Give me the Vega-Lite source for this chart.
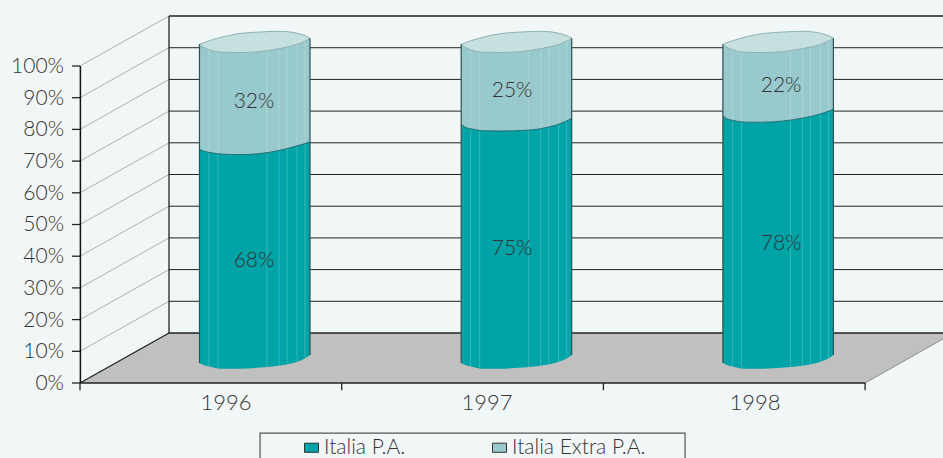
{"$schema":"https://vega.github.io/schema/vega-lite/v6.json","width":863,"height":383,"autosize":{"type":"none"},"padding":{"left":80,"top":0,"right":0,"bottom":75},"background":"#f1f7f7","config":{"view":{"stroke":null},"font":"Lato","axis":{"grid":false,"title":null,"labelOverlap":false}},
"datasets":{
"grid":[{"x":0.3401,"x2":3.2977,"y":25.77,"y2":25.77},{"x":0.3401,"x2":3.2977,"y":35.77,"y2":35.77},{"x":0.3401,"x2":3.2977,"y":45.77,"y2":45.77},{"x":0.3401,"x2":3.2977,"y":55.77,"y2":55.77},{"x":0.3401,"x2":3.2977,"y":65.77,"y2":65.77},{"x":0.3401,"x2":3.2977,"y":75.77,"y2":75.77},{"x":0.3401,"x2":3.2977,"y":85.77,"y2":85.77},{"x":0.3401,"x2":3.2977,"y":95.77,"y2":95.77},{"x":0.3401,"x2":3.2977,"y":105.77,"y2":105.77}],
"frame":[{"x":0.3401,"x2":3.2977,"y":115.77,"y2":115.77},{"x":0.3401,"x2":0.3401,"y":15.77,"y2":115.77},{"x":0.3401,"x2":3.2977,"y":15.77,"y2":15.77},{"x":0,"x2":3,"y":0,"y2":0},{"x":0,"x2":0.3401,"y":0,"y2":15.77},{"x":0,"x2":0,"y":0,"y2":-2.3},{"x":1,"x2":1,"y":0,"y2":-2.3},{"x":2,"x2":2,"y":0,"y2":-2.3},{"x":3,"x2":3,"y":0,"y2":-2.3},
{"x":-0.0306,"x2":0,"y":0,"y2":0},{"x":-0.0306,"x2":0,"y":10,"y2":10},{"x":-0.0306,"x2":0,"y":20,"y2":20},{"x":-0.0306,"x2":0,"y":30,"y2":30},{"x":-0.0306,"x2":0,"y":40,"y2":40},{"x":-0.0306,"x2":0,"y":50,"y2":50},{"x":-0.0306,"x2":0,"y":60,"y2":60},{"x":-0.0306,"x2":0,"y":70,"y2":70},{"x":-0.0306,"x2":0,"y":80,"y2":80},{"x":-0.0306,"x2":0,"y":90,"y2":90},{"x":-0.0306,"x2":0,"y":100,"y2":100}],
"leftLine":[{"x":0.0015,"y":0,"y2":100}],
"years":[{"x":0.558,"y":-6.3,"label":"1996"},{"x":1.555,"y":-6.3,"label":"1997"},{"x":2.579,"y":-6.3,"label":"1998"}],
"yLabels":[{"x":0,"y":0,"label":"0%"},{"x":0,"y":10,"label":"10%"},{"x":0,"y":20,"label":"20%"},{"x":0,"y":30,"label":"30%"},{"x":0,"y":40,"label":"40%"},{"x":0,"y":50,"label":"50%"},{"x":0,"y":60,"label":"60%"},{"x":0,"y":70,"label":"70%"},{"x":0,"y":80,"label":"80%"},{"x":0,"y":90,"label":"90%"},{"x":0,"y":100,"label":"100%"}],
"diag":[{"x":0,"x2":0.3401,"y":10,"y2":25.77},{"x":0,"x2":0.3401,"y":20,"y2":35.77},{"x":0,"x2":0.3401,"y":30,"y2":45.77},{"x":0,"x2":0.3401,"y":40,"y2":55.77},{"x":0,"x2":0.3401,"y":50,"y2":65.77},{"x":0,"x2":0.3401,"y":60,"y2":75.77},{"x":0,"x2":0.3401,"y":70,"y2":85.77},{"x":0,"x2":0.3401,"y":80,"y2":95.77},{"x":0,"x2":0.3401,"y":90,"y2":105.77},{"x":0,"x2":0.3401,"y":100,"y2":115.77}],
"floor":[{"x":0,"low":0,"high":0},{"x":0.3401,"low":0,"high":15.77},{"x":3,"low":0,"high":15.77},{"x":3.2977,"low":13.9,"high":15.77}],
"floorEdge":[{"x":3,"x2":3.2977,"y":0,"y2":13.9}],
"profile":[
{"year":1996,"x":0.4566,"bottom":6.31,"mid":73.72,"rimLow":106.84,"rimHigh":106.84},
{"year":1996,"x":0.47,"bottom":5.74,"mid":73.19,"rimLow":105.99,"rimHigh":107.26},
{"year":1996,"x":0.4968,"bottom":5.14,"mid":72.71,"rimLow":105.05,"rimHigh":108.04},
{"year":1996,"x":0.5464,"bottom":4.48,"mid":72.18,"rimLow":104.32,"rimHigh":109.21},
{"year":1996,"x":0.6114,"bottom":4.48,"mid":72.05,"rimLow":104.23,"rimHigh":110.25},
{"year":1996,"x":0.6878,"bottom":4.86,"mid":72.37,"rimLow":104.57,"rimHigh":110.73},
{"year":1996,"x":0.7642,"bottom":5.5,"mid":73.41,"rimLow":105.52,"rimHigh":110.95},
{"year":1996,"x":0.8407,"bottom":7,"mid":75.08,"rimLow":107.16,"rimHigh":110.09},
{"year":1996,"x":0.8674,"bottom":8.1,"mid":75.71,"rimLow":108.2,"rimHigh":109.31},
{"year":1996,"x":0.8789,"bottom":8.83,"mid":76.12,"rimLow":108.74,"rimHigh":108.74},
{"year":1997,"x":1.4566,"bottom":6.31,"mid":81.7,"rimLow":106.84,"rimHigh":106.84},
{"year":1997,"x":1.47,"bottom":5.74,"mid":80.76,"rimLow":105.99,"rimHigh":107.26},
{"year":1997,"x":1.4968,"bottom":5.14,"mid":80.13,"rimLow":105.05,"rimHigh":108.04},
{"year":1997,"x":1.5464,"bottom":4.48,"mid":79.56,"rimLow":104.32,"rimHigh":109.21},
{"year":1997,"x":1.6114,"bottom":4.48,"mid":79.5,"rimLow":104.23,"rimHigh":110.25},
{"year":1997,"x":1.6878,"bottom":4.86,"mid":79.65,"rimLow":104.57,"rimHigh":110.73},
{"year":1997,"x":1.7642,"bottom":5.5,"mid":80.28,"rimLow":105.52,"rimHigh":110.95},
{"year":1997,"x":1.8407,"bottom":7,"mid":82.02,"rimLow":107.16,"rimHigh":110.09},
{"year":1997,"x":1.8674,"bottom":8.1,"mid":82.97,"rimLow":108.2,"rimHigh":109.31},
{"year":1997,"x":1.8789,"bottom":8.83,"mid":83.5,"rimLow":108.74,"rimHigh":108.74},
{"year":1998,"x":2.4566,"bottom":6.31,"mid":84.23,"rimLow":106.84,"rimHigh":106.84},
{"year":1998,"x":2.47,"bottom":5.74,"mid":83.44,"rimLow":105.99,"rimHigh":107.26},
{"year":1998,"x":2.4968,"bottom":5.14,"mid":82.81,"rimLow":105.05,"rimHigh":108.04},
{"year":1998,"x":2.5464,"bottom":4.48,"mid":82.27,"rimLow":104.32,"rimHigh":109.21},
{"year":1998,"x":2.6114,"bottom":4.48,"mid":82.27,"rimLow":104.23,"rimHigh":110.25},
{"year":1998,"x":2.6878,"bottom":4.86,"mid":82.65,"rimLow":104.57,"rimHigh":110.73},
{"year":1998,"x":2.7642,"bottom":5.5,"mid":83.6,"rimLow":105.52,"rimHigh":110.95},
{"year":1998,"x":2.8407,"bottom":7,"mid":85.17,"rimLow":107.16,"rimHigh":110.09},
{"year":1998,"x":2.8674,"bottom":8.1,"mid":85.96,"rimLow":108.2,"rimHigh":109.31},
{"year":1998,"x":2.8789,"bottom":8.83,"mid":86.34,"rimLow":108.74,"rimHigh":108.74}],
"stripes":[
{"x":0.4929,"y":5.2,"y2":105.1},{"x":0.5273,"y":4.7,"y2":104.5},{"x":0.7146,"y":5,"y2":104.9},{"x":0.7604,"y":5.3,"y2":105.5},{"x":0.791,"y":5.9,"y2":106},{"x":0.8292,"y":6.7,"y2":106.9},{"x":0.8598,"y":7.9,"y2":107.9},
{"x":1.4929,"y":5.2,"y2":105.1},{"x":1.5273,"y":4.7,"y2":104.5},{"x":1.7146,"y":5,"y2":104.9},{"x":1.7604,"y":5.3,"y2":105.5},{"x":1.791,"y":5.9,"y2":106},{"x":1.8292,"y":6.7,"y2":106.9},{"x":1.8598,"y":7.9,"y2":107.9},
{"x":2.4929,"y":5.2,"y2":105.1},{"x":2.5273,"y":4.7,"y2":104.5},{"x":2.7146,"y":5,"y2":104.9},{"x":2.7604,"y":5.3,"y2":105.5},{"x":2.791,"y":5.9,"y2":106},{"x":2.8292,"y":6.7,"y2":106.9},{"x":2.8598,"y":7.9,"y2":107.9}],
"edges":[
{"x":0.4566,"x2":0.4566,"y":6.31,"y2":106.84},{"x":0.8789,"x2":0.8789,"y":8.83,"y2":108.74},
{"x":1.4566,"x2":1.4566,"y":6.31,"y2":106.84},{"x":1.8789,"x2":1.8789,"y":8.83,"y2":108.74},
{"x":2.4566,"x2":2.4566,"y":6.31,"y2":106.84},{"x":2.8789,"x2":2.8789,"y":8.83,"y2":108.74}],
"labels":[
{"year":1996,"series":"Italia P.A.","label":"68%","x":0.665,"y":38.5},
{"year":1996,"series":"Italia Extra P.A.","label":"32%","x":0.665,"y":88.66},
{"year":1997,"series":"Italia P.A.","label":"75%","x":1.651,"y":42.3},
{"year":1997,"series":"Italia Extra P.A.","label":"25%","x":1.651,"y":92.1},
{"year":1998,"series":"Italia P.A.","label":"78%","x":2.679,"y":43.9},
{"year":1998,"series":"Italia Extra P.A.","label":"22%","x":2.679,"y":93.7}],
"legendBox":[{"x":0.688,"x2":2.312,"y":-15.8,"y2":-30}]
},
"layer":[
{"data":{"name":"floor"},"mark":{"type":"area","fill":"#c0c0c0"},"encoding":{
"x":{"field":"x","type":"quantitative","scale":{"domain":[0,3.2977],"range":[0,863],"nice":false,"zero":false},"axis":null},
"y":{"field":"low","type":"quantitative","scale":{"domain":[0,120.82],"range":[383,0],"nice":false,"zero":false},"axis":null},
"y2":{"field":"high"}}},
{"data":{"name":"floorEdge"},"mark":{"type":"rule","stroke":"#8c8c8c","strokeWidth":1},"encoding":{
"x":{"field":"x","type":"quantitative","scale":{"domain":[0,3.2977],"range":[0,863],"nice":false,"zero":false},"axis":null},"x2":{"field":"x2"},
"y":{"field":"y","type":"quantitative","scale":{"domain":[0,120.82],"range":[383,0],"nice":false,"zero":false},"axis":null},"y2":{"field":"y2"}}},
{"data":{"name":"diag"},"mark":{"type":"rule","stroke":"#b0b0b0","strokeWidth":1},"encoding":{
"x":{"field":"x","type":"quantitative","scale":{"domain":[0,3.2977],"range":[0,863],"nice":false,"zero":false},"axis":null},"x2":{"field":"x2"},
"y":{"field":"y","type":"quantitative","scale":{"domain":[0,120.82],"range":[383,0],"nice":false,"zero":false},"axis":null},"y2":{"field":"y2"}}},
{"data":{"name":"grid"},"mark":{"type":"rule","stroke":"#222","strokeWidth":1},"encoding":{
"x":{"field":"x","type":"quantitative","scale":{"domain":[0,3.2977],"range":[0,863],"nice":false,"zero":false},"axis":null},"x2":{"field":"x2"},
"y":{"field":"y","type":"quantitative","scale":{"domain":[0,120.82],"range":[383,0],"nice":false,"zero":false},"axis":null},"y2":{"field":"y2"}}},
{"data":{"name":"frame"},"mark":{"type":"rule","stroke":"#222","strokeWidth":1.3},"encoding":{
"x":{"field":"x","type":"quantitative","scale":{"domain":[0,3.2977],"range":[0,863],"nice":false,"zero":false},"axis":null},"x2":{"field":"x2"},
"y":{"field":"y","type":"quantitative","scale":{"domain":[0,120.82],"range":[383,0],"nice":false,"zero":false},"axis":null},"y2":{"field":"y2"}}},
{"data":{"name":"leftLine"},"mark":{"type":"rule","stroke":"#111","strokeWidth":1.5},"encoding":{
"x":{"field":"x","type":"quantitative","scale":{"domain":[0,3.2977],"range":[0,863],"nice":false,"zero":false},"axis":null},
"y":{"field":"y","type":"quantitative","scale":{"domain":[0,120.82],"range":[383,0],"nice":false,"zero":false},"axis":null},"y2":{"field":"y2"}}},
{"data":{"name":"yLabels"},"mark":{"type":"text","fontSize":21,"fontWeight":300,"font":"Lato","color":"#333","align":"right","baseline":"middle","dx":-16,"dy":1},"encoding":{
"x":{"field":"x","type":"quantitative","scale":{"domain":[0,3.2977],"range":[0,863],"nice":false,"zero":false},"axis":null},
"y":{"field":"y","type":"quantitative","scale":{"domain":[0,120.82],"range":[383,0],"nice":false,"zero":false},"axis":null},"text":{"field":"label"}}},
{"data":{"name":"years"},"mark":{"type":"text","fontSize":22,"fontWeight":300,"font":"Lato","color":"#333","align":"center","baseline":"middle"},"encoding":{
"x":{"field":"x","type":"quantitative","scale":{"domain":[0,3.2977],"range":[0,863],"nice":false,"zero":false},"axis":null},
"y":{"field":"y","type":"quantitative","scale":{"domain":[0,120.82],"range":[383,0],"nice":false,"zero":false},"axis":null},"text":{"field":"label"}}},
{"data":{"name":"profile"},"mark":{"type":"area","interpolate":"monotone"},"encoding":{
"x":{"field":"x","type":"quantitative","scale":{"domain":[0,3.2977],"range":[0,863],"nice":false,"zero":false},"axis":null},
"y":{"field":"bottom","type":"quantitative","scale":{"domain":[0,120.82],"range":[383,0],"nice":false,"zero":false},"axis":null},"y2":{"field":"mid"},"detail":{"field":"year"},
"color":{"datum":"Italia P.A.","type":"nominal","scale":{"domain":["Italia P.A.","Italia Extra P.A."],"range":["#00a3a6","#98c9cc"]},"legend":{"title":null,"orient":"none","legendX":221,"legendY":437,"direction":"horizontal","columns":2,"columnPadding":83,"symbolType":"M-1,-0.65H1V0.65H-1Z","symbolSize":196,"symbolStrokeColor":"#333","symbolStrokeWidth":1,"symbolOpacity":1,"labelFontSize":21,"labelFontWeight":300,"labelColor":"#333","labelFont":"Lato","labelOffset":2}}}},
{"data":{"name":"profile"},"mark":{"type":"area","interpolate":"monotone"},"encoding":{
"x":{"field":"x","type":"quantitative","scale":{"domain":[0,3.2977],"range":[0,863],"nice":false,"zero":false},"axis":null},
"y":{"field":"mid","type":"quantitative","scale":{"domain":[0,120.82],"range":[383,0],"nice":false,"zero":false},"axis":null},"y2":{"field":"rimLow"},"detail":{"field":"year"},
"color":{"datum":"Italia Extra P.A.","type":"nominal"}}},
{"data":{"name":"profile"},"mark":{"type":"area","interpolate":"monotone","fill":"#c6dfdf"},"encoding":{
"x":{"field":"x","type":"quantitative","scale":{"domain":[0,3.2977],"range":[0,863],"nice":false,"zero":false},"axis":null},
"y":{"field":"rimLow","type":"quantitative","scale":{"domain":[0,120.82],"range":[383,0],"nice":false,"zero":false},"axis":null},"y2":{"field":"rimHigh"},"detail":{"field":"year"}}},
{"data":{"name":"stripes"},"mark":{"type":"rule","stroke":"#ffffff","strokeOpacity":0.22,"strokeWidth":1},"encoding":{
"x":{"field":"x","type":"quantitative","scale":{"domain":[0,3.2977],"range":[0,863],"nice":false,"zero":false},"axis":null},
"y":{"field":"y","type":"quantitative","scale":{"domain":[0,120.82],"range":[383,0],"nice":false,"zero":false},"axis":null},"y2":{"field":"y2"}}},
{"data":{"name":"profile"},"mark":{"type":"line","interpolate":"monotone","stroke":"#8fb0b2","strokeWidth":1},"encoding":{
"x":{"field":"x","type":"quantitative","scale":{"domain":[0,3.2977],"range":[0,863],"nice":false,"zero":false},"axis":null},
"y":{"field":"rimLow","type":"quantitative","scale":{"domain":[0,120.82],"range":[383,0],"nice":false,"zero":false},"axis":null},"detail":{"field":"year"}}},
{"data":{"name":"profile"},"mark":{"type":"line","interpolate":"monotone","stroke":"#8fb0b2","strokeWidth":1},"encoding":{
"x":{"field":"x","type":"quantitative","scale":{"domain":[0,3.2977],"range":[0,863],"nice":false,"zero":false},"axis":null},
"y":{"field":"rimHigh","type":"quantitative","scale":{"domain":[0,120.82],"range":[383,0],"nice":false,"zero":false},"axis":null},"detail":{"field":"year"}}},
{"data":{"name":"profile"},"mark":{"type":"line","interpolate":"monotone","stroke":"#1d6c70","strokeWidth":1},"encoding":{
"x":{"field":"x","type":"quantitative","scale":{"domain":[0,3.2977],"range":[0,863],"nice":false,"zero":false},"axis":null},
"y":{"field":"mid","type":"quantitative","scale":{"domain":[0,120.82],"range":[383,0],"nice":false,"zero":false},"axis":null},"detail":{"field":"year"}}},
{"data":{"name":"edges"},"mark":{"type":"rule","stroke":"#2f4f50","strokeWidth":1.2},"encoding":{
"x":{"field":"x","type":"quantitative","scale":{"domain":[0,3.2977],"range":[0,863],"nice":false,"zero":false},"axis":null},"x2":{"field":"x2"},
"y":{"field":"y","type":"quantitative","scale":{"domain":[0,120.82],"range":[383,0],"nice":false,"zero":false},"axis":null},"y2":{"field":"y2"}}},
{"data":{"name":"labels"},"mark":{"type":"text","fontSize":21,"fontWeight":300,"font":"Lato","color":"#333","align":"center","baseline":"middle"},"encoding":{
"x":{"field":"x","type":"quantitative","scale":{"domain":[0,3.2977],"range":[0,863],"nice":false,"zero":false},"axis":null},
"y":{"field":"y","type":"quantitative","scale":{"domain":[0,120.82],"range":[383,0],"nice":false,"zero":false},"axis":null},"text":{"field":"label"}}},
{"data":{"name":"legendBox"},"mark":{"type":"rect","fill":null,"stroke":"#555","strokeWidth":1.2},"encoding":{
"x":{"field":"x","type":"quantitative","scale":{"domain":[0,3.2977],"range":[0,863],"nice":false,"zero":false},"axis":null},"x2":{"field":"x2"},
"y":{"field":"y","type":"quantitative","scale":{"domain":[0,120.82],"range":[383,0],"nice":false,"zero":false},"axis":null},"y2":{"field":"y2"}}}
]}
